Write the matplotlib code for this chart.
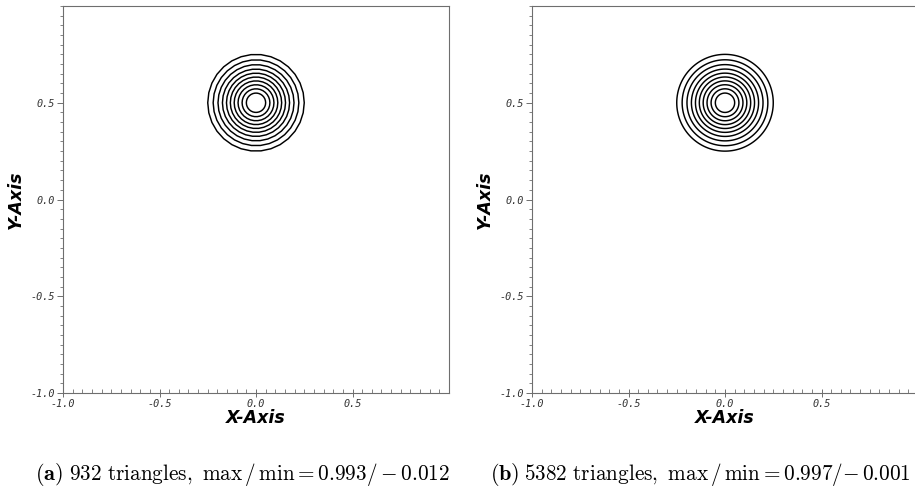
import numpy as np
import matplotlib
matplotlib.use("Agg")
import matplotlib.pyplot as plt
from matplotlib.patches import Polygon
from matplotlib.ticker import MultipleLocator, FixedLocator

# contour radii (hump centred at (0, 0.5))
center = (0.0, 0.5)
radii_a = [0.25, 0.222, 0.197, 0.174, 0.153, 0.133, 0.113, 0.093, 0.072, 0.05]
radii_b = [0.25, 0.222, 0.197, 0.174, 0.153, 0.133, 0.113, 0.093, 0.072, 0.05]
captions = [
    (r"$\mathbf{(a)}$", r"$\mathrm{932\ triangles,}\ \max\,/\,\min = 0.993/-0.012$"),
    (r"$\mathbf{(b)}$", r"$\mathrm{5382\ triangles,}\ \max\,/\,\min = 0.997/{-}\,0.001$"),
]
major_ticks = [-1.0, -0.5, 0.0, 0.5]

plt.rcParams["mathtext.fontset"] = "cm"

W, H = 915, 492
fig = plt.figure(figsize=(W / 100, H / 100), dpi=100)

AX_W, AX_H = 386, 387
lefts = [63, 532]
top = 6
spine_col = "#6e6e6e"
tick_font = dict(family="DejaVu Sans Mono", style="oblique", size=7.3, color="#333333")


def panel(left, radii, nseg):
    ax = fig.add_axes([left / W, 1 - (top + AX_H) / H, AX_W / W, AX_H / H])
    th = np.linspace(0, 2 * np.pi, nseg, endpoint=False)
    for r in radii:
        pts = np.column_stack([center[0] + r * np.cos(th), center[1] + r * np.sin(th)])
        ax.add_patch(Polygon(pts, closed=True, fill=False, edgecolor="black",
                             lw=1.05, joinstyle="round"))
    ax.set_xlim(-1, 1); ax.set_ylim(-1, 1)
    ax.xaxis.set_major_locator(FixedLocator(major_ticks))
    ax.yaxis.set_major_locator(FixedLocator(major_ticks))
    ax.xaxis.set_minor_locator(MultipleLocator(0.05))
    ax.yaxis.set_minor_locator(MultipleLocator(0.05))
    ax.set_xticklabels([f"{t:.1f}" for t in major_ticks], **tick_font)
    ax.set_yticklabels([f"{t:.1f}" for t in major_ticks], **tick_font)
    ax.tick_params(axis="x", which="major", direction="inout", length=6, width=0.7,
                   color=spine_col, pad=1.5)
    ax.tick_params(axis="x", which="minor", direction="in", length=3, width=0.6,
                   color=spine_col)
    ax.tick_params(axis="y", which="major", direction="out", length=4, width=0.7,
                   color=spine_col, pad=1.5)
    ax.tick_params(axis="y", which="minor", direction="out", length=2.5, width=0.6,
                   color=spine_col)
    for s in ax.spines.values():
        s.set_color(spine_col); s.set_linewidth(0.8)
    ax.set_xlabel("X-Axis", fontsize=12.5, fontweight="bold", style="italic", labelpad=0)
    ax.set_ylabel("Y-Axis", fontsize=12.5, fontweight="bold", style="italic", labelpad=4)
    return ax


panel(lefts[0], radii_a, 30)
panel(lefts[1], radii_b, 240)

for x0, (lab, txt) in zip([35, 490], captions):
    fig.text(x0 / W, 1 - 480 / H, lab, fontsize=16, ha="left", va="baseline")
    fig.text((x0 + 34) / W, 1 - 480 / H, txt, fontsize=15.3, ha="left", va="baseline")

fig.savefig("out.png", dpi=100)
